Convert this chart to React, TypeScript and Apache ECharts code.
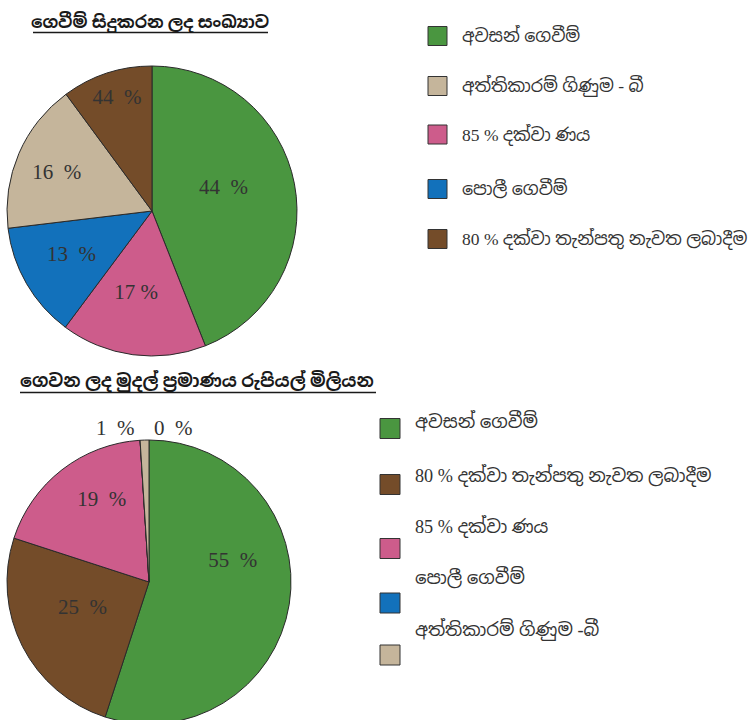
import React, { useEffect, useRef } from "react";
import * as echarts from "echarts";

// ---------- data ----------
const topTitle = "ගෙවීම් සිදුකරන ලද සංඛ්‍යාව";
const bottomTitle = "ගෙවන ලද මුදල් ප්‍රමාණය රුපියල් මිලියන";

// top pie (clockwise from 12 o'clock)
const countNames = [
  "අවසන් ගෙවීම්",
  "85 % දක්වා ණය",
  "පොලී ගෙවීම්",
  "අත්තිකාරම් ගිණුම - බී",
  "80 % දක්වා තැන්පතු නැවත ලබාදීම",
];
const countValues = [44, 16.2, 12.9, 16.8, 10.1];
const countLabels = ["44  %", "17 %", "13  %", "16  %", "44  %"];
const countLegend = [
  "අවසන් ගෙවීම්",
  "අත්තිකාරම් ගිණුම - බී",
  "85 % දක්වා ණය",
  "පොලී ගෙවීම්",
  "80 % දක්වා තැන්පතු නැවත ලබාදීම",
];

// bottom pie (clockwise from 12 o'clock)
const amountNames = [
  "අවසන් ගෙවීම්",
  "80 % දක්වා තැන්පතු නැවත ලබාදීම",
  "85 % දක්වා ණය",
  "පොලී ගෙවීම්",
  "අත්තිකාරම් ගිණුම -බී",
];
const amountValues = [55, 25, 19, 0, 1];
const amountLabels = ["55  %", "25  %", "19  %", "0  %", "1  %"];
const amountLegend = amountNames;

// ---------- styles ----------
const GREEN = "#4a9640";
const PINK = "#cd5c8b";
const BLUE = "#1271bb";
const TAN = "#c5b59b";
const BROWN = "#744c29";
const countColors = [GREEN, PINK, BLUE, TAN, BROWN];
const countLegendColors = [GREEN, TAN, PINK, BLUE, BROWN];
const amountColors = [GREEN, BROWN, PINK, BLUE, TAN];

const SIN_FONT = "'Liberation Serif', 'Noto Sans Sinhala', serif";
const NUM_FONT = "'Liberation Serif', 'Times New Roman', serif";

const topCenter = [152, 211];
const topRadius = 145;
const botCenter = [149, 582];
const botRadius = 142;

// label placement: radius fraction and angular shift (deg) relative to slice middle
const countLabelFrac = [0.52, 0.57, 0.63, 0.71, 0.82];
const countLabelShift = [-8, 3.6, 1.7, -1.2, 1];
const amountLabelFrac = [0.61, 0.5, 0.67, 1.1, 1.11];
const amountLabelShift = [-23.7, 6.5, 8, 12.5, -10.6];

const topLegendY = [36, 86, 134.5, 189, 239];
const topLegendX = 428;
const botLegendSqY = [428.5, 484.5, 548.5, 603, 655];
const botLegendTxtY = [422, 476, 527, 578, 630];
const botLegendX = 380;

function midAngles(values: number[]) {
  const total = values.reduce((a, b) => a + b, 0);
  let acc = 0;
  return values.map((v) => {
    const start = acc;
    acc += v;
    return ((start + v / 2) / total) * 360;
  });
}

function makeLayout(values: number[], center: number[], radius: number, frac: number[], shift: number[]) {
  const mids = midAngles(values);
  return (params: any) => {
    const i = params.dataIndex;
    const a = ((mids[i] + shift[i]) * Math.PI) / 180;
    const r = radius * frac[i];
    return {
      x: center[0] + r * Math.sin(a),
      y: center[1] - r * Math.cos(a),
      align: "center",
      verticalAlign: "middle",
    };
  };
}

function legendGraphics(
  names: string[],
  colors: string[],
  x: number,
  sqY: number[],
  txtY: number[],
  size: number,
  txtX: number,
  fontSize: number
) {
  const els: any[] = [];
  names.forEach((n, i) => {
    els.push({
      type: "rect",
      shape: { x, y: sqY[i] - size / 2, width: size, height: size },
      style: { fill: colors[i], stroke: "#333", lineWidth: 1 },
    });
    els.push({
      type: "text",
      x: txtX,
      y: txtY[i],
      style: {
        text: n,
        font: `${fontSize}px ${SIN_FONT}`,
        fill: "#333",
        verticalAlign: "middle",
      },
    });
  });
  return els;
}

export default function App() {
  const ref = useRef<HTMLDivElement>(null);
  useEffect(() => {
    if (!ref.current) return;
    const chart = echarts.init(ref.current, null, { renderer: "svg" });
    const pieCommon = {
      type: "pie",
      startAngle: 90,
      clockwise: true,
      avoidLabelOverlap: false,
      silent: true,
      itemStyle: { borderColor: "#2a2a2a", borderWidth: 1 },
      labelLine: { show: false },
      emphasis: { disabled: true },
    };
    chart.setOption({
      animation: false,
      backgroundColor: "#ffffff",
      graphic: [
        {
          type: "text",
          x: 150,
          y: 22,
          style: {
            text: topTitle,
            font: `bold 17px ${SIN_FONT}`,
            fill: "#1a1a1a",
            align: "center",
            verticalAlign: "middle",
          },
        },
        {
          type: "line",
          shape: { x1: 33, y1: 32.5, x2: 268, y2: 32.5 },
          style: { stroke: "#1a1a1a", lineWidth: 1.5 },
        },
        {
          type: "text",
          x: 20,
          y: 381,
          style: {
            text: bottomTitle,
            font: `bold 17.7px ${SIN_FONT}`,
            fill: "#1a1a1a",
            align: "left",
            verticalAlign: "middle",
          },
        },
        {
          type: "line",
          shape: { x1: 20, y1: 392.5, x2: 376, y2: 392.5 },
          style: { stroke: "#1a1a1a", lineWidth: 1.5 },
        },
        ...legendGraphics(countLegend, countLegendColors, topLegendX, topLegendY, topLegendY, 19, 462, 17.5),
        ...legendGraphics(amountLegend, amountColors, botLegendX, botLegendSqY, botLegendTxtY, 20, 415, 18.2),
      ],
      series: [
        {
          ...pieCommon,
          center: topCenter,
          radius: topRadius,
          data: countNames.map((n, i) => ({
            name: n,
            value: countValues[i],
            itemStyle: { color: countColors[i] },
          })),
          label: {
            show: true,
            position: "inside",
            formatter: (p: any) => countLabels[p.dataIndex],
            fontFamily: NUM_FONT,
            fontSize: 21,
            color: "#333",
          },
          labelLayout: makeLayout(countValues, topCenter, topRadius, countLabelFrac, countLabelShift),
        },
        {
          ...pieCommon,
          center: botCenter,
          radius: botRadius,
          data: amountNames.map((n, i) => ({
            name: n,
            value: amountValues[i],
            itemStyle: { color: amountColors[i] },
          })),
          label: {
            show: true,
            position: "inside",
            formatter: (p: any) => amountLabels[p.dataIndex],
            fontFamily: NUM_FONT,
            fontSize: 21,
            color: "#333",
          },
          labelLayout: makeLayout(amountValues, botCenter, botRadius, amountLabelFrac, amountLabelShift),
        },
      ],
    });
    return () => chart.dispose();
  }, []);
  return (
    <div
      ref={ref}
      style={{ position: "fixed", left: 0, top: 0, width: 753, height: 720, background: "#fff" }}
    />
  );
}
